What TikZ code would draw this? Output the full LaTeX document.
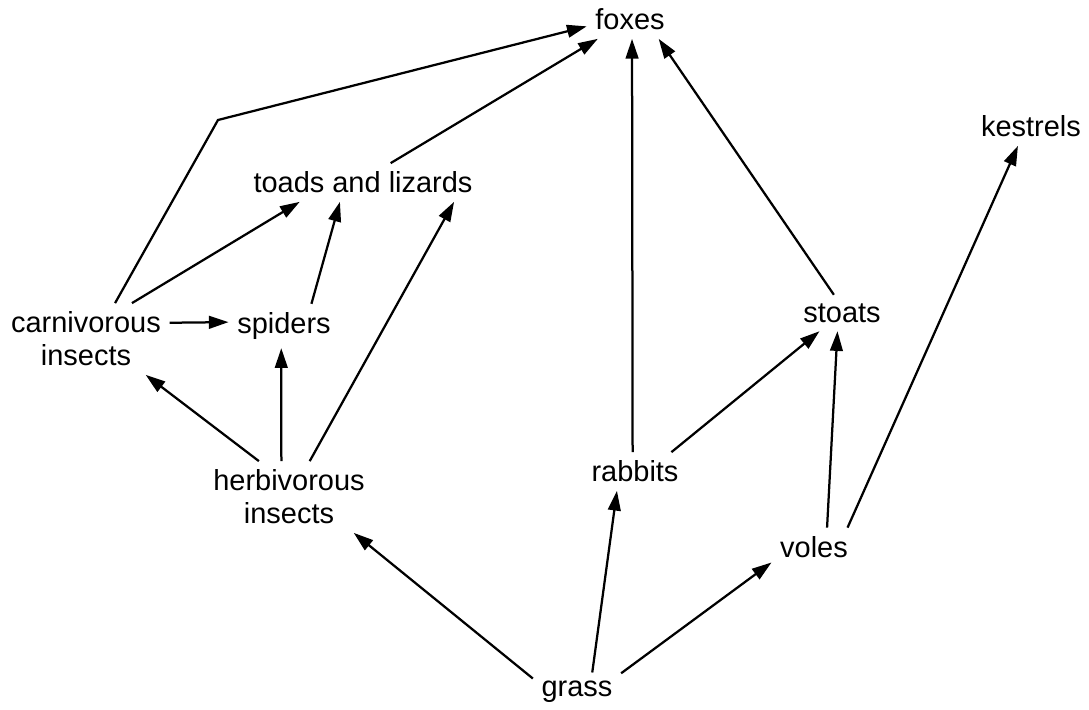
\documentclass[tikz,border=0pt]{standalone}
\usepackage{fontspec}
\setmainfont{Liberation Sans}
\usetikzlibrary{arrows.meta}
\tikzset{
  animal/.style={inner sep=6pt, align=center, font=\fontsize{20.6}{23.5}\selectfont},
  eats/.style={-{Triangle[length=14pt,width=9pt]}, line width=1.6pt}
}
\begin{document}
\begin{tikzpicture}[x=0.025cm,y=-0.025cm]
\useasboundingbox (0,0) rectangle (1089,709);
\node[animal] (foxes) at (630,19.5) {foxes};
\node[animal] (kestrels) at (1031,126.5) {kestrels};
\node[animal] (toads) at (363,182.5) {toads and lizards};
\node[animal] (carn) at (86,339) {carnivorous\\insects};
\node[animal] (spiders) at (284,326) {spiders};
\node[animal] (stoats) at (842,313) {stoats};
\node[animal] (herb) at (289,497) {herbivorous\\insects};
\node[animal] (rabbits) at (635,471.5) {rabbits};
\node[animal] (voles) at (814,547) {voles};
\node[animal] (grass) at (577,692) {grass};
\coordinate (bend) at (218,120);
\draw[eats] (carn.51) -- (bend) -- (foxes.189);
\draw[eats] (toads.35) -- (foxes.211);
\draw[eats] (rabbits.97) -- (foxes.276);
\draw[eats] (stoats.114) -- (foxes.326);
\draw[eats] (carn.11.6) -- (spiders.176);
\draw[eats] (carn.38) -- (toads.197.6);
\draw[eats] (spiders.39) -- (toads.220);
\draw[eats] (herb.130) -- (carn.329.5);
\draw[eats] (herb.102.5) -- (spiders.263);
\draw[eats] (herb.60) -- (toads.348);
\draw[eats] (grass.163) -- (herb.331);
\draw[eats] (grass.52) -- (rabbits.227);
\draw[eats] (grass.23) -- (voles.200);
\draw[eats] (rabbits.28.7) -- (stoats.219);
\draw[eats] (voles.56) -- (stoats.256);
\draw[eats] (voles.30) -- (kestrels.236);
\end{tikzpicture}
\end{document}
